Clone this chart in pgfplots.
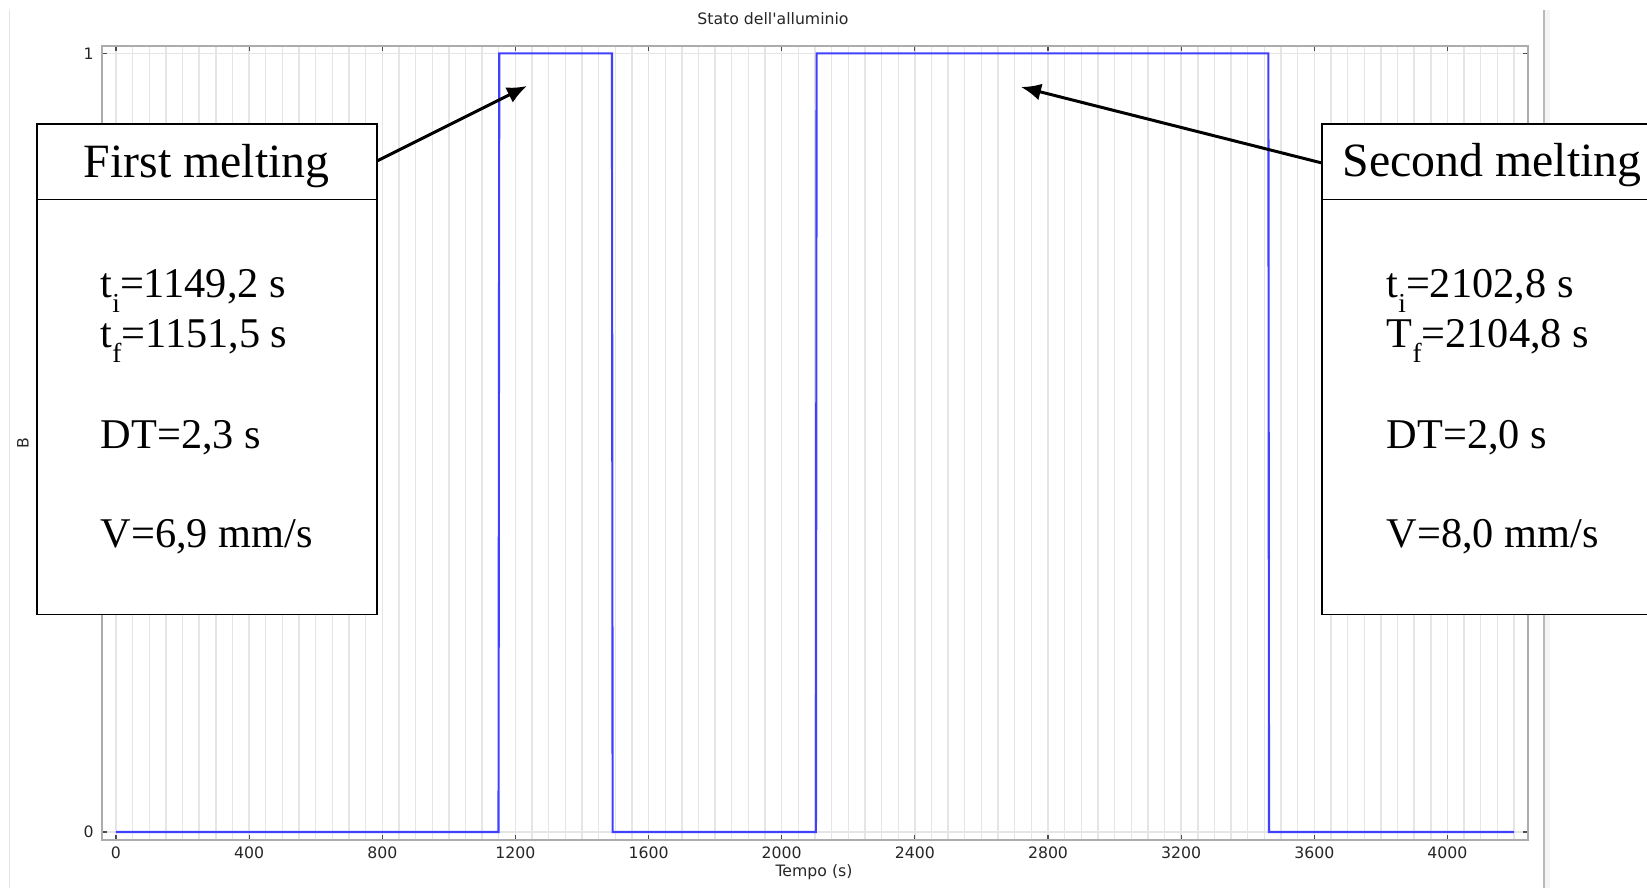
\documentclass[border=0pt]{standalone}
\usepackage{fontspec}
\setmainfont{Liberation Serif}
\newfontfamily\dejavu{DejaVu Sans}
\usepackage{pgfplots}
\pgfplotsset{compat=1.18}
\usetikzlibrary{arrows.meta}
\definecolor{plotblue}{RGB}{64,64,255}
\newcommand{\smallsans}{\dejavu\fontsize{4.47}{5.4}\selectfont}
\newcommand{\boxfont}{\fontsize{12.05}{14}\selectfont}
\newcommand{\titlefont}{\fontsize{13.6}{15}\selectfont}
\newcommand{\sub}[1]{\raisebox{-4.3pt}{\fontsize{7.8}{8}\selectfont #1}}
\begin{document}
\begin{tikzpicture}
\path[use as bounding box] (0,0) rectangle (16.47,8.88);
\clip (0,0) rectangle (16.47,8.88);
% window borders
\draw[gray!20, line width=0.5pt] (0.096,0) -- (0.096,8.78);
\fill[gray!8] (15.45,0) rectangle (15.50,8.78);
\draw[gray!55, line width=0.6pt] (15.44,0) -- (15.44,8.78);
\begin{axis}[
  at={(1.02cm,0.48cm)}, anchor=south west,
  scale only axis, width=14.26cm, height=7.943cm,
  xmin=-42, xmax=4242, ymin=-0.0103, ymax=1.0098,
  xtick={0,400,...,4000},
  minor xtick={0,50,...,4200},
  ytick={0,1},
  grid=both,
  major grid style={draw=gray!20, line width=0.4pt},
  minor grid style={draw=gray!20, line width=0.4pt},
  minor tick length=0pt,
  major tick length=0.05cm,
  tick style={draw=black!70, line width=0.35pt},
  axis line style={draw=gray!65, line width=0.6pt},
  /pgf/number format/assume math mode=true,
  /pgf/number format/1000 sep={},
  tick label style={font=\smallsans, text=black!85},
  xticklabel style={yshift=0.06cm},
  yticklabel style={xshift=0.04cm},
]
\addplot[plotblue, line width=0.6pt] coordinates {
 (0,0) (1149.2,0) (1151.5,1) (1490,1) (1492,0)
 (2102.8,0) (2104.8,1) (3462,1) (3464,0) (4200,0)
};
\end{axis}
% title and labels
\node[font=\smallsans, text=black!85] at (7.73,8.69) {Stato dell'alluminio};
\node[font=\smallsans, text=black!85, rotate=90] at (0.23,4.45) {B};
\node[font=\smallsans, text=black!85] at (8.14,0.16) {Tempo (s)};
% left box
\draw[black, line width=0.5pt, fill=white] (0.368,7.64) rectangle (3.77,2.735);
\draw[black, line width=0.5pt] (0.368,6.885) -- (3.77,6.885);
\node[anchor=base west, inner sep=0pt, font=\titlefont] at (0.83,7.11) {First melting};
\node[anchor=base west, inner sep=0pt, font=\boxfont] at (1.0,5.91) {t\sub{i}=1149,2 s};
\node[anchor=base west, inner sep=0pt, font=\boxfont] at (1.0,5.41) {t\sub{f}=1151,5 s};
\node[anchor=base west, inner sep=0pt, font=\boxfont] at (1.0,4.40) {DT=2,3 s};
\node[anchor=base west, inner sep=0pt, font=\boxfont] at (1.0,3.41) {V=6,9 mm/s};
% right box
\draw[black, line width=0.5pt, fill=white] (13.22,7.64) rectangle (16.62,2.735);
\draw[black, line width=0.5pt] (13.22,6.885) -- (16.62,6.885);
\node[anchor=base west, inner sep=0pt, font=\titlefont] at (13.42,7.12) {Second melting};
\node[anchor=base west, inner sep=0pt, font=\boxfont] at (13.86,5.91) {t\sub{i}=2102,8 s};
\node[anchor=base west, inner sep=0pt, font=\boxfont] at (13.86,5.41) {T\sub{f}=2104,8 s};
\node[anchor=base west, inner sep=0pt, font=\boxfont] at (13.86,4.40) {DT=2,0 s};
\node[anchor=base west, inner sep=0pt, font=\boxfont] at (13.86,3.41) {V=8,0 mm/s};
% arrows
\draw[line width=0.85pt, -{Latex[length=0.2cm,width=0.17cm]}] (3.77,7.27) -- (5.27,8.02);
\draw[line width=0.85pt, -{Latex[length=0.2cm,width=0.17cm]}] (13.22,7.25) -- (10.21,8.01);
\end{tikzpicture}
\end{document}
